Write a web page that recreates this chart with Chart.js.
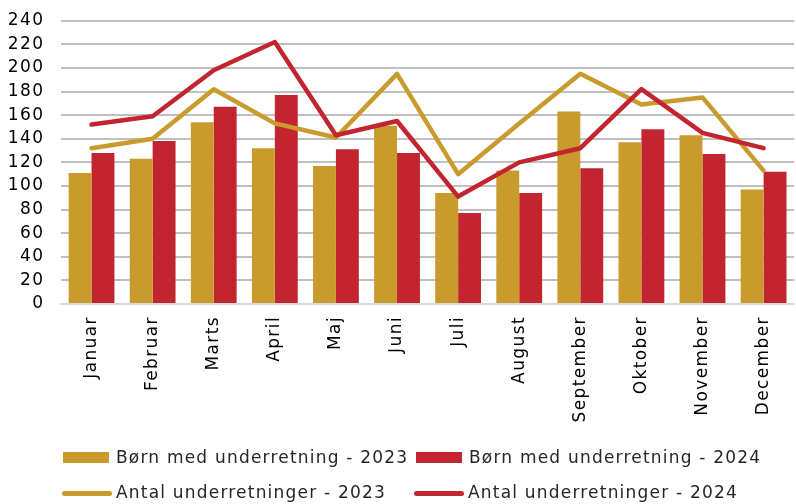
<!DOCTYPE html>
<html>
<head>
<meta charset="utf-8">
<script src="https://cdn.jsdelivr.net/npm/chart.js@4/dist/chart.umd.min.js"></script>
<style>
  html, body { margin: 0; padding: 0; background: #fff; overflow: hidden; }
  #wrap { position: relative; width: 796px; height: 504px; overflow: hidden; }
  #c { position: absolute; left: 0; top: -6px; }
  .leg { position: absolute; font-family: "DejaVu Sans", sans-serif; font-size: 17px; letter-spacing: 1.2px; color: #262626; white-space: nowrap; }
  .sw { position: absolute; }
</style>
</head>
<body>
<div id="wrap">
  <canvas id="c" width="796" height="510"></canvas>
  <div id="legend"></div>
</div>
<script>
const months = ["Januar","Februar","Marts","April","Maj","Juni","Juli","August","September","Oktober","November","December"];
const boern2023 = [111,123,154,132,117,151,94,113,163,137,143,97];
const boern2024 = [128,138,167,177,131,128,77,94,115,148,127,112];
const antal2023 = [132,140,182,153,141,195,110,153,195,169,175,113];
const antal2024 = [152,159,198,222,143,155,91,120,132,182,145,132];
const yTicks = [0,20,40,60,80,100,120,140,160,180,200,220,240];
const seriesNames = ["Børn med underretning - 2023","Børn med underretning - 2024","Antal underretninger - 2023","Antal underretninger - 2024"];

const GOLD = "#C99B2C";
const RED = "#C32530";
const FONT = "'DejaVu Sans', sans-serif";

const spacingPlugin = {
  id: "spacing",
  beforeDraw(chart) { chart.ctx.letterSpacing = "1.4px"; },
  afterDraw(chart) { chart.ctx.letterSpacing = "0px"; }
};

new Chart(document.getElementById("c"), {
  data: {
    labels: months,
    datasets: [
      { type: "line", label: seriesNames[3], data: antal2024, borderColor: RED, borderWidth: 4.5, pointRadius: 0, tension: 0, borderCapStyle: "round", borderJoinStyle: "round", order: 0 },
      { type: "line", label: seriesNames[2], data: antal2023, borderColor: GOLD, borderWidth: 4.5, pointRadius: 0, tension: 0, borderCapStyle: "round", borderJoinStyle: "round", order: 1 },
      { type: "bar", label: seriesNames[0], data: boern2023, backgroundColor: GOLD, categoryPercentage: 0.75, barPercentage: 1.0, order: 2 },
      { type: "bar", label: seriesNames[1], data: boern2024, backgroundColor: RED, categoryPercentage: 0.75, barPercentage: 1.0, order: 2 }
    ]
  },
  plugins: [spacingPlugin],
  options: {
    responsive: false,
    animation: false,
    layout: { padding: { top: 14, right: 0, bottom: 0, left: 0 } },
    plugins: { legend: { display: false }, tooltip: { enabled: false } },
    scales: {
      x: {
        grid: { display: false, drawTicks: false },
        border: { display: true, color: "#D9D9D9", width: 2 },
        ticks: { autoSkip: false, minRotation: 90, maxRotation: 90, padding: 12, color: "#000", font: { family: FONT, size: 17 } },
        afterFit: (s) => { s.height = 200; }
      },
      y: {
        min: 0, max: 240,
        afterBuildTicks: (s) => { s.ticks = yTicks.map(v => ({ value: v })); },
        grid: { color: "#C0C0C0", lineWidth: 2, drawTicks: false },
        border: { display: false },
        ticks: { autoSkip: false, padding: 16.5, color: "#000", font: { family: FONT, size: 17 } },
        afterFit: (s) => { s.width = 61; }
      }
    }
  }
});

// Legend (grid of 2 columns x 2 rows)
const leg = document.getElementById("legend");
const items = [
  { name: seriesNames[0], color: GOLD, kind: "box", x: 63, y: 458 },
  { name: seriesNames[1], color: RED, kind: "box", x: 416, y: 458 },
  { name: seriesNames[2], color: GOLD, kind: "line", x: 62, y: 493 },
  { name: seriesNames[3], color: RED, kind: "line", x: 414, y: 493 }
];
items.forEach(it => {
  const sw = document.createElement("div");
  sw.className = "sw";
  if (it.kind === "box") {
    sw.style.cssText = `left:${it.x}px;top:${it.y - 6}px;width:46px;height:11px;background:${it.color};`;
  } else {
    sw.style.cssText = `left:${it.x}px;top:${it.y - 2.5}px;width:50px;height:5px;border-radius:3px;background:${it.color};`;
  }
  leg.appendChild(sw);
  const t = document.createElement("div");
  t.className = "leg";
  t.textContent = it.name;
  t.style.left = (it.x + (it.kind === "box" ? 53 : 54)) + "px";
  t.style.top = (it.y - 11) + "px";
  leg.appendChild(t);
});
</script>
</body>
</html>
